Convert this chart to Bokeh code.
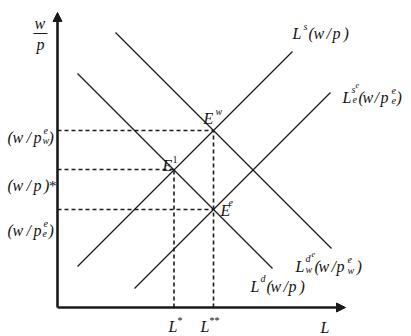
from bokeh.plotting import figure
from bokeh.models import Arrow, NormalHead, Range1d
from bokeh.embed import file_html
from bokeh.resources import INLINE
from bokeh.core.properties import value

# ---------------- data (model units) ----------------
L_star = 11.65      # L*
L_2star = 15.6      # L**
wp_w = 17.7         # (w/p^e_w)
wp_star = 13.8      # (w/p)*
wp_e = 9.8          # (w/p^e_e)

Ls_x = [2.0, 23.5]       # L^s(w/p)
Ls_y = [4.1, 25.6]
Ld_x = [2.0, 21.5]       # L^d(w/p)
Ld_y = [23.4, 3.9]
Ldw_x = [5.8, 27.4]      # L^de_w(w/p^e_w)
Ldw_y = [27.5, 5.9]
Lse_x = [7.7, 27.3]      # L^se_e(w/p^e_e)
Lse_y = [1.9, 21.5]

x_axis_max = 28.8
y_axis_max = 29.5

# ---------------- layout ----------------
W, H = 411, 336
S = 10.0                 # px per unit
OX, OY = 57, 307         # origin in figure pixels
TEXT_DY = -5             # global baseline correction (px)

p = figure(width=W, height=H,
           x_range=Range1d(-OX / S, (W - OX) / S),
           y_range=Range1d(-(H - OY) / S, OY / S),
           output_backend="svg", toolbar_location=None,
           x_axis_location=None, y_axis_location=None, min_border=0)
p.grid.visible = False
p.outline_line_color = None

LC = "#1a1a1a"
FONT = "Liberation Serif"

# axes with arrows
p.add_layout(Arrow(end=NormalHead(size=9, fill_color=LC, line_color=LC, line_width=1),
                   x_start=0, y_start=0, x_end=0, y_end=y_axis_max,
                   line_width=2.6, line_color=LC))
p.add_layout(Arrow(end=NormalHead(size=9, fill_color=LC, line_color=LC, line_width=1),
                   x_start=0, y_start=0, x_end=x_axis_max, y_end=0,
                   line_width=2.6, line_color=LC))

# dashed guides
p.segment(x0=[0, 0, 0], y0=[wp_w, wp_star, wp_e],
          x1=[L_2star, L_star, L_2star], y1=[wp_w, wp_star, wp_e],
          line_dash="4 3", line_width=1.6, line_color=LC)
p.segment(x0=[L_star, L_2star], y0=[0, 0],
          x1=[L_star, L_2star], y1=[wp_star, wp_w],
          line_dash="4 3", line_width=1.6, line_color=LC)

# curves
for xs, ys in [(Ls_x, Ls_y), (Ld_x, Ld_y), (Ldw_x, Ldw_y), (Lse_x, Lse_y)]:
    p.line(xs, ys, line_width=1.3, line_color=LC)

# ---------------- labels ----------------
groups = {}
STY = {"m": (16, "italic"), "s": (10, "italic"), "xs": (8, "italic"),
       "mu": (15, "normal"), "su": (10, "normal")}


def put(ax, ay, items):
    for txt, dx, dy, kind in items:
        groups.setdefault(kind, []).append((ax + dx / S, ay - (dy + TEXT_DY) / S, txt))


def paren_label(ax, ay, dy, sup=None, sub=None, star=False):
    items = [("(", -50, dy, "m"), ("w", -45, dy, "m"), ("/", -31, dy, "m"),
             ("p", -24, dy, "m")]
    if star:
        items += [(")", -13.5, dy, "m"), ("*", -8.5, dy, "mu")]
    else:
        items += [(sup, -14, dy - 7, "s"), (sub, -15, dy + 3, "s"), (")", -9, dy, "m")]
    put(ax, ay, items)


# vertical axis label w/p
put(0, y_axis_max, [("w", -23, 16, "m"), ("p", -21, 37, "m")])
p.segment(x0=[-24 / S], y0=[y_axis_max - 21 / S], x1=[-10 / S], y1=[y_axis_max - 21 / S],
          line_width=1.2, line_color=LC)

paren_label(0, wp_w, 12, sup="e", sub="w")
paren_label(0, wp_star, 21, star=True)
paren_label(0, wp_e, 26, sup="e", sub="e")

# horizontal labels
put(L_star, 0, [("L", -5.5, 24, "m"), ("*", 3.5, 18, "su")])
put(L_2star, 0, [("L", -13, 24, "m"), ("**", -4, 18, "su")])
put(x_axis_max, 0, [("L", -25, 25, "m")])

# equilibrium points
put(L_2star, wp_w, [("E", -10, -7, "m"), ("w", 2, -14, "s")])
put(L_star, wp_star, [("E", -11.5, 1, "m"), ("1", -1.5, -5, "su")])
put(L_2star, wp_e, [("E", 7, 6, "m"), ("e", 15, -2, "s")])

# curve labels
put(Ls_x[1], Ls_y[1], [("L", 0, -13, "m"), ("s", 11, -20, "s"), ("(", 16, -13, "m"),
                       ("w", 21, -13, "m"), ("/", 34, -13, "m"), ("p", 40, -13, "m"),
                       (")", 51, -13, "m")])
put(Lse_x[1], Lse_y[1], [("L", 12, 10, "m"), ("s", 21, 2, "s"), ("e", 25, -3, "xs"),
                         ("e", 22, 12, "s"), ("(", 28, 10, "m"), ("w", 32, 10, "m"),
                         ("/", 44, 10, "m"), ("p", 50, 10, "m"), ("e", 61, 3, "s"),
                         ("e", 61, 13, "s"), (")", 66, 10, "m")])
put(Ldw_x[1], Ldw_y[1], [("L", -36, 23, "m"), ("d", -26, 15, "s"), ("e", -20, 10, "xs"),
                         ("w", -26, 26, "s"), ("(", -17, 23, "m"), ("w", -13, 23, "m"),
                         ("/", 0, 23, "m"), ("p", 5, 23, "m"), ("e", 16, 16, "s"),
                         ("w", 16, 27, "s"), (")", 25, 23, "m")])
put(Ld_x[1], Ld_y[1], [("L", -22, 23, "m"), ("d", -12, 15, "s"), ("(", -6, 23, "m"),
                       ("w", -2, 23, "m"), ("/", 11, 23, "m"), ("p", 16, 23, "m"),
                       (")", 27, 23, "m")])

for kind, rows in groups.items():
    size, style = STY[kind]
    p.text(x=[r[0] for r in rows], y=[r[1] for r in rows], text=[r[2] for r in rows],
           text_font=value(FONT), text_font_size=f"{size}px", text_font_style=style,
           text_color="#111111", text_align="left", text_baseline="alphabetic")

open("out.html", "w").write(file_html(p, INLINE))
